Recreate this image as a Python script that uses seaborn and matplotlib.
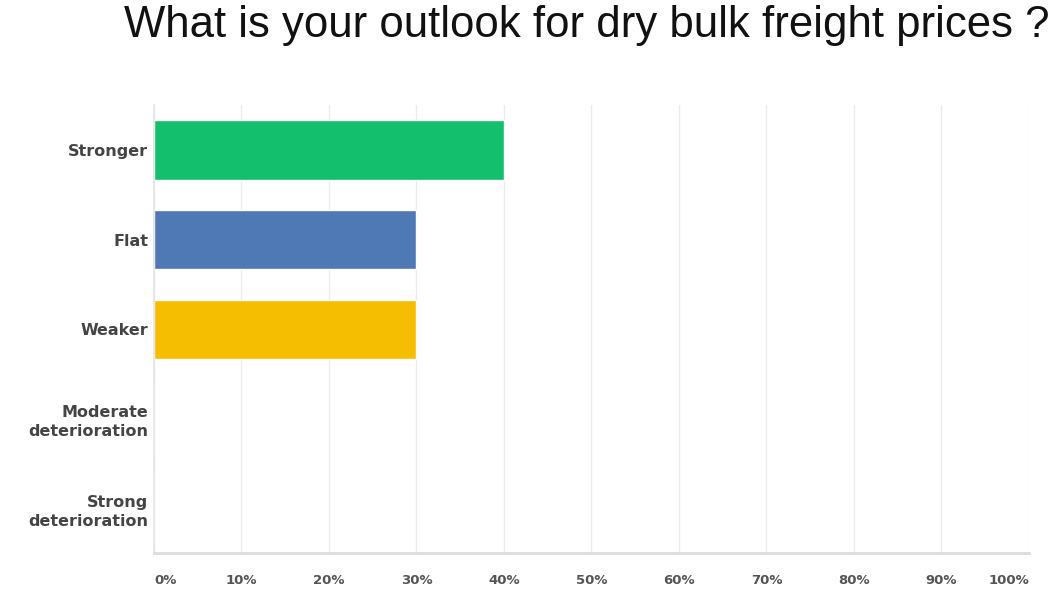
import matplotlib
matplotlib.use("Agg")
import matplotlib.pyplot as plt
import seaborn as sns
import pandas as pd

categories = ["Stronger", "Flat", "Weaker", "Moderate\ndeterioration", "Strong\ndeterioration"]
values = [40, 30, 30, 0, 0]
colors = ["#13BF6D", "#4F79B5", "#F6BE00", "#999999", "#999999"]
xticks = [0, 10, 20, 30, 40, 50, 60, 70, 80, 90, 100]
xtick_labels = ["0%", "10%", "20%", "30%", "40%", "50%", "60%", "70%", "80%", "90%", "100%"]
title = "What is your outlook for dry bulk freight prices ?"

sns.set_theme(style="white")
plt.rcParams["font.family"] = ["DejaVu Sans"]

fig = plt.figure(figsize=(10.64, 6.08), dpi=100)
ax = fig.add_axes([0.1447, 0.0905, 0.8223, 0.7365])

df = pd.DataFrame({"cat": categories, "val": values})
sns.barplot(data=df, y="cat", x="val", hue="cat", palette=colors, orient="h",
            width=0.66, legend=False, ax=ax, saturation=1)

ax.set_xlim(0, 100)
ax.set_ylim(4.5, -0.5)
ax.set_xticks(xticks)
ax.set_xticklabels(xtick_labels)
for i, lbl in enumerate(ax.get_xticklabels()):
    if i == 0:
        lbl.set_ha("left")
    elif i == len(xticks) - 1:
        lbl.set_ha("right")
ax.grid(axis="x", color="#ececec", linewidth=1)
ax.set_axisbelow(True)
ax.set_xlabel("")
ax.set_ylabel("")
ax.tick_params(axis="x", length=0, pad=15, labelsize=9.5, labelcolor="#555555")
ax.tick_params(axis="y", length=0, pad=4, labelsize=11.5, labelcolor="#444444")
for lbl in ax.get_xticklabels() + ax.get_yticklabels():
    lbl.set_fontweight("bold")
for lbl in ax.get_yticklabels():
    lbl.set_multialignment("right")
    lbl.set_linespacing(1.35)

for s in ["top", "right"]:
    ax.spines[s].set_visible(False)
ax.spines["left"].set_color("#e4e4e4")
ax.spines["left"].set_linewidth(1.2)
ax.spines["bottom"].set_color("#dddddd")
ax.spines["bottom"].set_linewidth(2)

fig.text(0.551, 0.958, title, ha="center", va="center", fontsize=31.5,
         family=["Liberation Sans", "DejaVu Sans"], color="#111111")

fig.savefig("out.png", dpi=100)
